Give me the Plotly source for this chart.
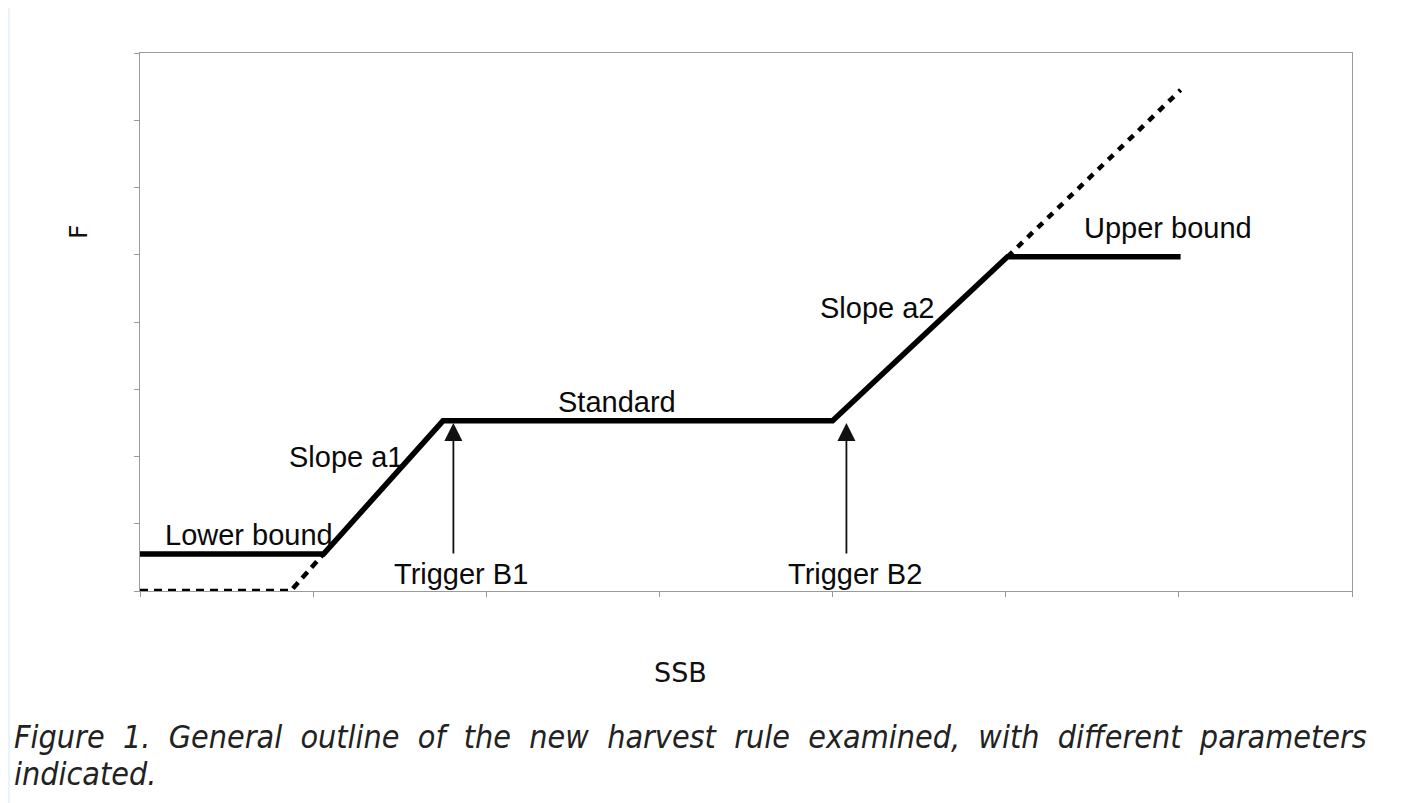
import plotly.graph_objects as go

# ---- data (in axis units) ----
rule_x = [0, 1.06, 1.75, 4.0, 5.01, 6.01]
rule_y = [0.55, 0.55, 2.53, 2.53, 4.97, 4.97]

low_dash_x = [0, 0.87, 1.06]
low_dash_y = [0, 0, 0.55]

up_dash_x = [5.01, 6.01]
up_dash_y = [4.97, 7.45]

trigger_names = ["Trigger B1", "Trigger B2"]
trigger_x = [1.81, 4.08]
trigger_label_x = [1.855, 4.13]
arrow_tip_y = 2.50
arrow_tail_y = 0.535

segment_labels = ["Lower bound", "Slope a1", "Standard", "Slope a2", "Upper bound"]
segment_label_x = [0.63, 1.195, 2.755, 4.26, 5.94]
segment_label_y = [0.83, 2.0, 2.81, 4.21, 5.40]

x_ticks = [0, 1, 2, 3, 4, 5, 6, 7]
y_ticks = [0, 1, 2, 3, 4, 5, 6, 7, 8]

caption_line1 = "Figure 1. General outline of the new harvest rule examined, with different parameters"
caption_line2 = "indicated."

# page offset: the html body has an 8px margin
OFF = 8
W, H = 1404 - OFF, 803 - OFF
ML, MR, MT, MB = 140 - OFF, 52, 53 - OFF, 212
PW, PH = W - ML - MR, H - MT - MB


def px_x(p):  # page pixel -> paper coordinate
    return (p - 140) / PW


def px_y(p):
    return (591 - p) / PH


fig = go.Figure()

fig.add_trace(go.Scatter(x=low_dash_x, y=low_dash_y, mode="lines",
                         line=dict(color="black", width=4.5, dash="8px,6px"),
                         hoverinfo="skip", showlegend=False, cliponaxis=False))
fig.add_trace(go.Scatter(x=up_dash_x, y=up_dash_y, mode="lines",
                         line=dict(color="black", width=4.5, dash="7px,7px"),
                         hoverinfo="skip", showlegend=False))
fig.add_trace(go.Scatter(x=rule_x, y=rule_y, mode="lines",
                         line=dict(color="black", width=5.5),
                         hoverinfo="skip", showlegend=False))

label_font = dict(family="Liberation Sans, Arial, sans-serif", size=29, color="#0a0a0a")

for name, lx, tx in zip(trigger_names, trigger_label_x, trigger_x):
    fig.add_annotation(x=tx, y=arrow_tip_y, ax=tx, ay=arrow_tail_y,
                       xref="x", yref="y", axref="x", ayref="y",
                       showarrow=True, arrowhead=2, arrowsize=2.0, arrowwidth=1.8,
                       arrowcolor="#111", text="")
    fig.add_annotation(x=lx, y=0.25, xref="x", yref="y", text=name,
                       showarrow=False, font=label_font,
                       xanchor="center", yanchor="middle")

for t, lx, ly in zip(segment_labels, segment_label_x, segment_label_y):
    fig.add_annotation(x=lx, y=ly, xref="x", yref="y", text=t, showarrow=False,
                       font=label_font, xanchor="center", yanchor="middle")

# axis titles
fig.add_annotation(x=px_x(78), y=px_y(232), xref="paper", yref="paper", text="F",
                   showarrow=False, textangle=-90, xanchor="center", yanchor="middle",
                   font=dict(family="DejaVu Sans, sans-serif", size=25, color="#111"))
fig.add_annotation(x=px_x(680), y=px_y(672), xref="paper", yref="paper", text="SSB",
                   showarrow=False, xanchor="center", yanchor="middle",
                   font=dict(family="DejaVu Sans, sans-serif", size=27, color="#111"))

cap_font = dict(family="DejaVu Sans Condensed, DejaVu Sans, sans-serif", size=32,
                color="#222", style="italic")
fig.add_annotation(x=px_x(12), y=px_y(737), xref="paper", yref="paper",
                   text=caption_line1.replace(" ", " \u00a0"),
                   showarrow=False, xanchor="left", yanchor="middle", font=cap_font)
fig.add_annotation(x=px_x(12), y=px_y(774), xref="paper", yref="paper",
                   text=caption_line2,
                   showarrow=False, xanchor="left", yanchor="middle", font=cap_font)

# light blue page edge on the left
fig.add_shape(type="rect", xref="paper", yref="paper",
              x0=px_x(8), x1=px_x(10), y0=px_y(803), y1=px_y(8),
              fillcolor="#e9f3fd", line=dict(width=0), layer="below")

axis_common = dict(showline=True, mirror=True, linecolor="#9a9a9a", linewidth=1,
                   ticks="outside", ticklen=5, tickcolor="#9a9a9a", tickwidth=1,
                   showticklabels=False, showgrid=False, zeroline=False,
                   fixedrange=True)

fig.update_xaxes(range=[0, 7], tickvals=x_ticks, **axis_common)
fig.update_yaxes(range=[0, 8], tickvals=y_ticks, **axis_common)

fig.update_layout(width=W, height=H,
                  margin=dict(l=ML, r=MR, t=MT, b=MB, autoexpand=False),
                  paper_bgcolor="white", plot_bgcolor="white",
                  showlegend=False)

fig.write_html("out.html")
